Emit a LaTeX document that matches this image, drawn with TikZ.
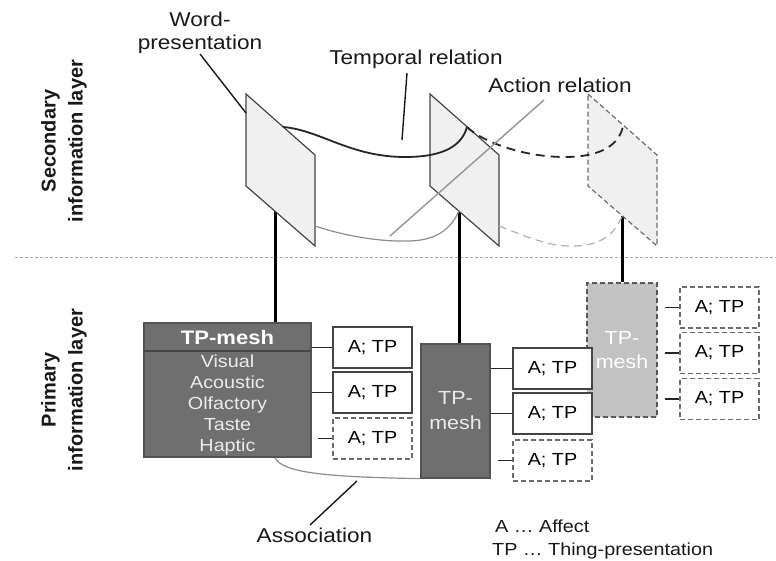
\documentclass[tikz,border=0pt]{standalone}
\usepackage{fontspec}
\setmainfont{Liberation Sans}[FakeStretch=1.13]
\newfontfamily\sidefont{Liberation Sans}
\definecolor{meshdark}{HTML}{6F6F6F}
\definecolor{meshlight}{HTML}{C2C2C2}
\definecolor{planefill}{HTML}{F0F0F0}
\definecolor{edgegray}{HTML}{454545}
\definecolor{relgray}{HTML}{8C8C8C}
\definecolor{meshtext}{HTML}{EBEBEB}
\newcommand{\mylblfont}{\fontsize{20}{24}\selectfont}
\newcommand{\myboxfont}{\fontsize{17.5}{21}\selectfont}
\begin{document}
\begin{tikzpicture}[x=1pt,y=-1pt,
  lbl/.style={font=\mylblfont, inner sep=0pt, text=black!90},
  sidelbl/.style={font=\sidefont\bfseries\fontsize{20}{27}\selectfont, align=center, rotate=90, inner sep=0pt, text=black!90},
  plane/.style={draw=edgegray, fill=planefill, line width=1.2pt, line join=miter},
  ghostplane/.style={plane, draw=gray!85!black, dash pattern=on 5pt off 3pt},
  pole/.style={line width=3pt, draw=black},
  temporal/.style={line width=1.8pt, draw=black!85},
  ghosttemporal/.style={temporal, dash pattern=on 9pt off 6pt},
  assoc/.style={line width=1.2pt, draw=relgray},
  ghostassoc/.style={assoc, draw=gray!60, dash pattern=on 8pt off 5pt},
  leader/.style={line width=1.4pt, draw=black!90},
  meshbox/.style={draw=gray!65!black, fill=meshdark, line width=1.2pt, inner sep=0pt},
  ghostmesh/.style={meshbox, draw=gray!70!black, fill=meshlight, dash pattern=on 5pt off 3pt},
  atpbox/.style={draw=edgegray, fill=white, line width=1.2pt, minimum width=79pt, minimum height=41pt, inner sep=0pt, font=\myboxfont},
  ghostatp/.style={atpbox, draw=gray!85!black, dash pattern=on 5pt off 3pt},
  link/.style={line width=1.5pt, draw=black!85},
  meshtxt/.style={text=meshtext, align=center, inner sep=0pt}
]
\useasboundingbox (0,0) rectangle (776,561);

% layer labels and separator
\node[sidelbl] (seclbl) at (64,141) {Secondary\\information layer};
\node[sidelbl] (primlbl) at (64,390) {Primary\\information layer};
\coordinate (sepL) at (15,257);
\coordinate (sepR) at (776,257);
\draw[draw=gray!70, line width=0.6pt, dash pattern=on 3pt off 2pt] (sepL) -- (sepR);

% corners of the three word-presentation planes
\coordinate (w1) at (246,94);
\coordinate (w2) at (430,94);
\coordinate (w3) at (588,94);

% mesh boxes of the primary layer
\node[meshbox, minimum width=167pt, minimum height=134pt] (mesh1) at (227.5,390) {};
\node[meshbox, minimum width=69pt, minimum height=134pt] (mesh2) at (455.5,411) {};
\node[ghostmesh, minimum width=70pt, minimum height=134pt] (mesh3) at (622,350) {};

% poles from the planes down to the meshes
\coordinate (p1top) at (275,211);
\coordinate (p2top) at (459,211);
\coordinate (p3top) at (622,216);
\draw[pole] (p1top) -- (p1top |- mesh1.north);
\draw[pole] (p2top) -- (p2top |- mesh2.north);
\draw[pole] (p3top) -- (p3top |- mesh3.north);

% planes
\draw[plane] (w1) -- ++(69,61) -- ++(0,91) -- ++(-69,-60) -- cycle;
\draw[plane] (w2) -- ++(69,61) -- ++(0,91) -- ++(-69,-60) -- cycle;
\draw[ghostplane] (w3) -- ++(69,61) -- ++(0,91) -- ++(-69,-60) -- cycle;

% lower relations between planes
\coordinate (r1) at (315,226);
\coordinate (r2) at (499,226);
\draw[assoc] (r1) .. controls (345,236) and (380,242) .. (410,241)
  .. controls (440,240) and (452,226) .. (p2top);
\draw[ghostassoc] (r2) .. controls (530,238) and (550,247) .. (575,246)
  .. controls (605,245) and (616,231) .. (p3top);

% temporal relation
\coordinate (t1) at (283,127);
\coordinate (t2) at (467,127);
\coordinate (t3) at (623,126);
\draw[temporal] (t1) .. controls (320,130) and (350,157) .. (405,157)
  .. controls (445,157) and (462,145) .. (t2);
\draw[ghosttemporal] (t2) .. controls (480,140) and (520,157) .. (565,157)
  .. controls (605,157) and (620,142) .. (t3);

% action relation
\coordinate (a0) at (390,236);
\coordinate (a9) at (544,100);
\draw[line width=1.5pt, draw=gray!80] (a0) -- (a9);

% labels with leaders
\node[lbl, anchor=base] (wordlbl) at (200,27) {Word-};
\node[lbl, anchor=base] (preslbl) at (200,50) {presentation};
\node[lbl, anchor=base] (templbl) at (416,65) {Temporal relation};
\node[lbl, anchor=base] (actlbl) at (560,93) {Action relation};
\coordinate (wl0) at (200,54);
\coordinate (wl1) at (246,113);
\draw[leader] (wl0) -- (wl1);
\coordinate (tl0) at (407,73);
\coordinate (tl1) at (402,140);
\draw[leader] (tl0) -- (tl1);

% first mesh contents
\coordinate (hdL) at (144,351);
\coordinate (hdR) at (311,351);
\draw[draw=gray!55!black, line width=1.2pt] (hdL) -- (hdR);
\node[meshtxt, text=white, font=\bfseries\fontsize{19.5}{22}\selectfont] (mesh1head) at (227.5,338) {TP-mesh};
\node[meshtxt, font=\fontsize{17.5}{21}\selectfont] (mesh1body) at (227.5,405)
  {Visual\\Acoustic\\Olfactory\\Taste\\Haptic};
\node[meshtxt, font=\fontsize{19}{25}\selectfont] (mesh2txt) at (mesh2) {TP-\\mesh};
\node[meshtxt, text=white, font=\fontsize{19}{24}\selectfont] (mesh3txt) at (mesh3) {TP-\\mesh};

% affect / thing-presentation boxes of the third mesh
\node[ghostatp] (c1) at (719.5,307.5) {A; TP};
\node[ghostatp] (c2) at (719.5,353) {A; TP};
\node[ghostatp] (c3) at (719.5,399) {A; TP};

% affect / thing-presentation boxes of the first mesh
\node[atpbox] (a1) at (372.5,347.5) {A; TP};
\node[atpbox] (a2) at (372.5,392.5) {A; TP};
\node[ghostatp] (a3) at (372.5,438.5) {A; TP};

% affect / thing-presentation boxes of the second mesh
\node[atpbox] (b1) at (552.5,368.5) {A; TP};
\node[atpbox] (b2) at (552.5,413.5) {A; TP};
\node[ghostatp] (b3) at (552.5,460.5) {A; TP};

% links between meshes and their boxes
\draw[link] (mesh1.east |- a1.west) -- (a1.west);
\draw[link] (mesh1.east |- a2.west) -- (a2.west);
\draw[link] (mesh2.east |- b1.west) -- (b1.west);
\draw[link] (mesh2.east |- b2.west) -- (b2.west);
\path (a3.west) ++(-14,0) coordinate (a3s);
\path (b3.west) ++(-14,0) coordinate (b3s);
\path (c1.west) ++(-14,0) coordinate (c1s);
\path (c2.west) ++(-14,0) coordinate (c2s);
\path (c3.west) ++(-14,0) coordinate (c3s);
\draw[link] (a3s) -- (a3.west);
\draw[link] (b3s) -- (b3.west);
\draw[link] (c1s) -- (c1.west);
\draw[link] (c2s) -- (c2.west);
\draw[link] (c3s) -- (c3.west);

% association between the meshes
\coordinate (as0) at (p1top |- mesh1.south);
\draw[assoc] (as0) .. controls (282,472) and (320,477) .. (mesh2.south west);
\node[lbl, anchor=base] (assoclbl) at (314.5,542) {Association};
\coordinate (al0) at (357,481);
\coordinate (al1) at (310,525);
\draw[leader] (al0) -- (al1);

% legend
\node[lbl, font=\fontsize{17.5}{21}\selectfont, anchor=base west] (leg1) at (495,532) {A … Affect};
\node[lbl, font=\fontsize{17.5}{21}\selectfont, anchor=base west] (leg2) at (492,555) {TP … Thing-presentation};
\end{tikzpicture}
\end{document}
